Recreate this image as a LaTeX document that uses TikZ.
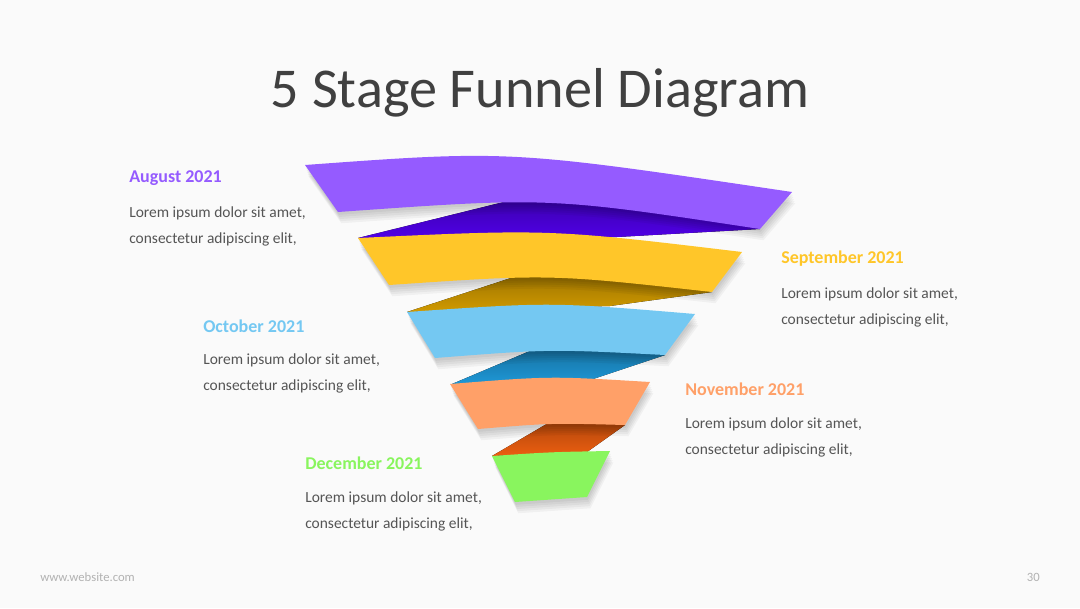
\documentclass[tikz,border=0pt]{standalone}
\usepackage{fontspec}
\setmainfont{Carlito}
\usepackage{tikz}
\usetikzlibrary{positioning}

\definecolor{bgc}{HTML}{FAFAFA}
\definecolor{titlec}{HTML}{404040}
\definecolor{bodyc}{HTML}{555555}
\definecolor{purp}{HTML}{955BFF}
\definecolor{purpdk}{HTML}{4F00E6}
\definecolor{yell}{HTML}{FFC629}
\definecolor{yelldk}{HTML}{D19A00}
\definecolor{sky}{HTML}{74C8F2}
\definecolor{skydk}{HTML}{1E97D6}
\definecolor{oran}{HTML}{FFA068}
\definecolor{orandk}{HTML}{EC5E10}
\definecolor{lime}{HTML}{89F55E}

\begin{document}
\begin{tikzpicture}[x=0.025cm, y=-0.025cm,
  shade/.style={preaction={fill=black, opacity=0.04, transform canvas={xshift=0.3*#1, yshift=-#1}}},
  band/.style={fill=#1, shade=2pt, shade=3.5pt, shade=5pt, shade=6.5pt, shade=8pt},
  fold/.style={top color=#1!75!black, bottom color=#1},
  head/.style={anchor=west, inner sep=0pt, font=\fontsize{12.8}{15}\selectfont\bfseries, text=#1},
  body/.style={anchor=north west, inner sep=0pt, align=left, text=bodyc,
      font=\fontsize{11}{18.5}\selectfont}]

\fill[bgc] (0,0) rectangle (1080,608);
\useasboundingbox (0,0) rectangle (1080,608);

\node[text=titlec, font=\fontsize{40}{46}\selectfont] (title) at (540,93) {5 Stage Funnel Diagram};

% funnel, top to bottom
\fill[fold=purpdk] (358,238) -- (520,198) .. controls (650,204) .. (760,229)
  -- (617,237) -- cycle;
\fill[band=purp] (305,165) .. controls (510,150) .. (792,192) -- (760,229)
  .. controls (549,197) .. (338,212) -- cycle;
\fill[fold=yelldk] (407,312) -- (523,274) .. controls (620,276) .. (712,292)
  -- (610,306) -- cycle;
\fill[band=yell] (358,238) .. controls (550,229) .. (742,252) -- (712,292)
  .. controls (550,274) .. (389,285) -- cycle;
\fill[fold=skydk] (452,384) -- (537,348) .. controls (600,348) .. (665,355)
  -- (593,379) -- cycle;
\fill[band=sky] (407,312) .. controls (551,302) .. (695,314) -- (665,355)
  .. controls (550,349) .. (435,358) -- cycle;
\fill[fold=orandk] (492,456) -- (550,422) .. controls (590,421) .. (625,425)
  -- (587,452) -- cycle;
\fill[band=oran] (450,384) .. controls (550,376) .. (650,382) -- (625,425)
  .. controls (551,423) .. (478,429) -- cycle;
\fill[band=lime] (492,456) .. controls (551,452) .. (610,451) -- (587,497)
  .. controls (551,499) .. (515,502) -- cycle;

% labels
\node[head=purp] (aug) at (129,178) {August 2021};
\node[body] (augtxt) at (129,206) {Lorem ipsum dolor sit amet,\\consectetur adipiscing elit,};
\node[head=yell] (sep) at (781,259) {September 2021};
\node[body] (septxt) at (781,287) {Lorem ipsum dolor sit amet,\\consectetur adipiscing elit,};
\node[head=sky] (oct) at (203,326) {October 2021};
\node[body] (octtxt) at (203,353) {Lorem ipsum dolor sit amet,\\consectetur adipiscing elit,};
\node[head=oran] (nov) at (685,389) {November 2021};
\node[body] (novtxt) at (685,417) {Lorem ipsum dolor sit amet,\\consectetur adipiscing elit,};
\node[head=lime] (dec) at (305,463) {December 2021};
\node[body] (dectxt) at (305,491) {Lorem ipsum dolor sit amet,\\consectetur adipiscing elit,};

\node[anchor=west, inner sep=0pt, text=black!30, font=\fontsize{9}{10}\selectfont] (web) at (40,577) {www.website.com};
\node[anchor=east, inner sep=0pt, text=black!30, font=\fontsize{9}{10}\selectfont] (page) at (1040,577) {30};
\end{tikzpicture}
\end{document}
